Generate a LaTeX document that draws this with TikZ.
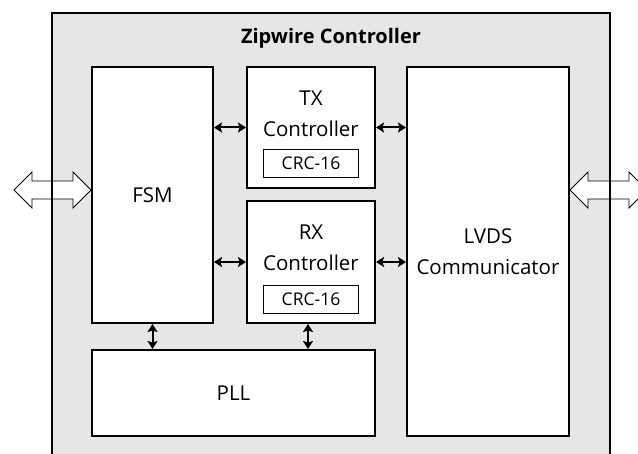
\documentclass[tikz,border=0pt]{standalone}
\usepackage{fontspec}
\setmainfont{Open Sans}
\usepackage{tikz}
\usetikzlibrary{arrows.meta,calc}
\definecolor{ColBack}{RGB}{230,230,230}

\begin{document}
\begin{tikzpicture}[
  x=1pt, y=1pt,
  >={Stealth[length=8pt,width=10pt,inset=1.5pt]},
  every node/.style={font=\fontsize{20.5}{31}\selectfont},
  block/.style={draw, line width=2pt, fill=white, inner sep=0pt, align=center},
  crcbox/.style={draw, line width=0.9pt, fill=white, minimum width=95pt,
    minimum height=28pt, inner sep=0pt, font=\fontsize{17.5}{20}\selectfont},
  link/.style={<->, line width=2pt},
  bigarrow/.style={draw, line width=0.9pt, fill=white, line join=miter}
]
  \clip (0,0) rectangle (638,454);

  % Outer frame
  \coordinate (frameNW) at (52,441);
  \coordinate (frameSE) at (610,-20);
  \fill[ColBack] (frameNW) rectangle (frameSE);
  \node[font=\bfseries\fontsize{20}{22}\selectfont] (title) at (331,416) {Zipwire Controller};

  % Blocks
  \node[block, minimum width=121pt, minimum height=256pt] (fsm)  at (152.5,259) {FSM};
  \node[block, minimum width=128pt, minimum height=121pt] (tx)   at (311,326.5) {};
  \node[block, minimum width=128pt, minimum height=122pt] (rx)   at (311,192) {};
  \node[block, minimum width=162pt, minimum height=369pt] (lvds) at (488,202.5) {LVDS\\Communicator};
  \node[block, minimum width=283pt, minimum height=86pt]  (pll)  at (233.5,61) {PLL};

  % Controller labels and CRC units
  \node[anchor=base] (txlbl) at ([yshift=-40pt]tx.north) {TX};
  \node[anchor=base] (txctl) at ([yshift=-31pt]txlbl.base) {Controller};
  \node[anchor=base] (rxlbl) at ([yshift=-40pt]rx.north) {RX};
  \node[anchor=base] (rxctl) at ([yshift=-31pt]rxlbl.base) {Controller};
  \node[crcbox] (txcrc) at (311,291) {CRC-16};
  \node[crcbox] (rxcrc) at (311,155) {CRC-16};

  % Internal links
  \draw[link] (fsm.east |- tx) -- (tx.west);
  \draw[link] (fsm.east |- rx) -- (rx.west);
  \draw[link] (tx.east) -- (lvds.west |- tx);
  \draw[link] (rx.east) -- (lvds.west |- rx);
  \draw[link] (fsm.south) -- (pll.north -| fsm);
  \draw[link] ([xshift=-3pt]rx.south) -- ([xshift=-3pt]pll.north -| rx);

  % External ports
  \coordinate (ioL) at (fsm.west |- 0,264);
  \coordinate (ioR) at (lvds.east |- 0,264);
  \draw[bigarrow] (ioL) -- ++(-18,18) -- ++(0,-9) -- ++(-41,0) -- ++(0,9)
    -- ++(-18,-18) -- ++(18,-18) -- ++(0,9) -- ++(41,0) -- ++(0,-9) -- cycle;
  \draw[bigarrow] (ioR) -- ++(18,18) -- ++(0,-9) -- ++(41,0) -- ++(0,9)
    -- ++(18,-18) -- ++(-18,-18) -- ++(0,9) -- ++(-41,0) -- ++(0,-9) -- cycle;

  % Frame border on top
  \draw[line width=2pt] (frameNW) rectangle (frameSE);
\end{tikzpicture}
\end{document}
